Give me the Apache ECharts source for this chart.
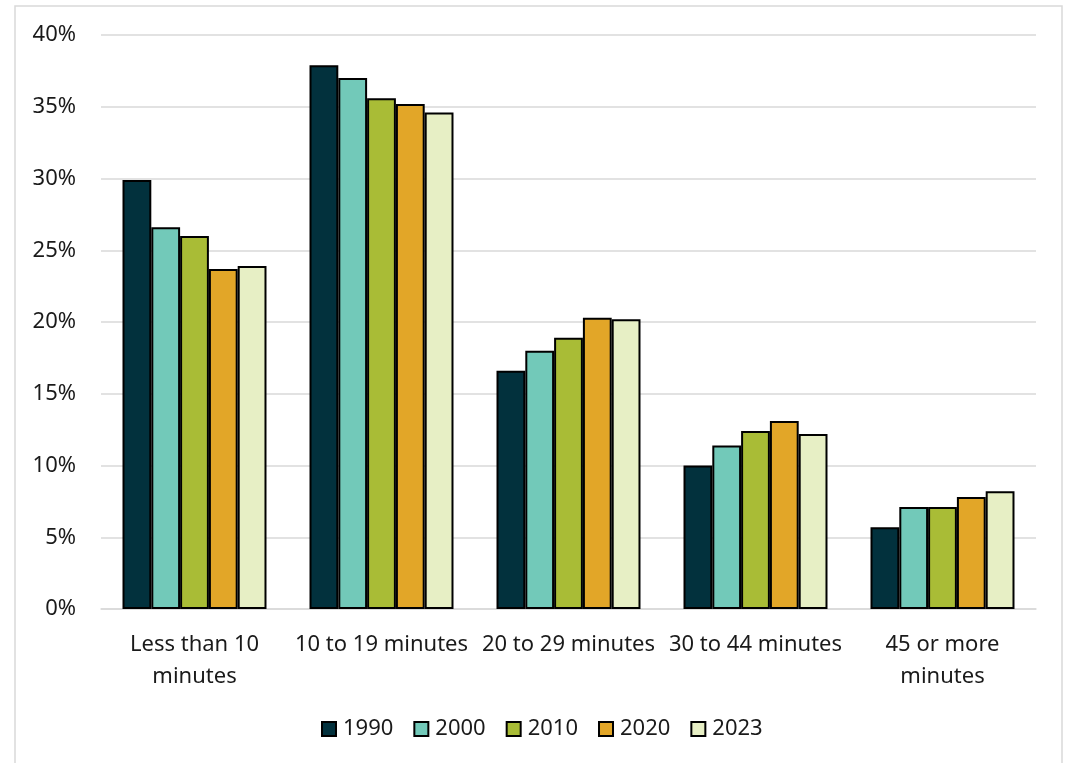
<!DOCTYPE html>
<html>
<head>
<meta charset="utf-8">
<style>
  html, body { margin: 0; padding: 0; background: #ffffff; }
  #chart { width: 1066px; height: 763px; }
</style>
<script src="https://cdn.jsdelivr.net/npm/echarts@6/dist/echarts.min.js"></script>
</head>
<body>
<div id="chart"></div>
<script>
// Share of workers by travel time to work, by year (percent)
const categories = ['Less than 10\nminutes', '10 to 19 minutes', '20 to 29 minutes', '30 to 44 minutes', '45 or more\nminutes'];
const years = ['1990', '2000', '2010', '2020', '2023'];
const values1990 = [29.9, 37.9, 16.6, 10.0, 5.7];
const values2000 = [26.6, 37.0, 18.0, 11.4, 7.1];
const values2010 = [26.0, 35.6, 18.9, 12.4, 7.1];
const values2020 = [23.7, 35.2, 20.3, 13.1, 7.8];
const values2023 = [23.9, 34.6, 20.2, 12.2, 8.2];
const yTicks = [0, 5, 10, 15, 20, 25, 30, 35, 40];
const colors = ['#02313d', '#72c9b9', '#a9bc36', '#e2a628', '#e7efc5'];

const seriesValues = [values1990, values2000, values2010, values2020, values2023];
const fontFamily = '"Noto Sans", "Open Sans", sans-serif';
const textColor = '#1a1a1a';
const gridColor = '#d9d9d9';
const fontSize = 22;

const chart = echarts.init(document.getElementById('chart'), null, { renderer: 'canvas' });

chart.setOption({
  animation: false,
  backgroundColor: '#ffffff',
  textStyle: { fontFamily: fontFamily, color: textColor },
  graphic: [{
    type: 'rect',
    shape: { x: 15, y: 6, width: 1047, height: 800 },
    style: { fill: 'none', stroke: gridColor, lineWidth: 1.5 },
    silent: true,
    z: -1
  }],
  grid: { left: 101, right: 30, top: 35, bottom: 154, containLabel: false },
  legend: {
    data: years,
    top: 713,
    left: 316,
    itemWidth: 14,
    itemHeight: 14,
    itemGap: 20,
    icon: 'rect',
    textStyle: { fontFamily: fontFamily, fontSize: fontSize, color: textColor, padding: [0, 0, 0, 2] }
  },
  xAxis: {
    type: 'category',
    data: categories,
    axisTick: { show: false },
    axisLine: { lineStyle: { color: gridColor, width: 1.5 } },
    axisLabel: {
      interval: 0,
      margin: 20,
      fontSize: fontSize,
      lineHeight: 32,
      color: textColor,
      fontFamily: fontFamily
    }
  },
  yAxis: {
    type: 'value',
    min: yTicks[0],
    max: yTicks[yTicks.length - 1],
    interval: 5,
    axisLine: { show: false },
    axisTick: { show: false },
    splitLine: { lineStyle: { color: gridColor, width: 1.5 } },
    axisLabel: {
      margin: 25,
      fontSize: fontSize,
      color: textColor,
      fontFamily: fontFamily,
      formatter: v => v + '%'
    }
  },
  series: years.map((y, i) => ({
    name: y,
    type: 'bar',
    data: seriesValues[i],
    barGap: '0%',
    barCategoryGap: '23%',
    itemStyle: { color: colors[i], borderColor: '#000000', borderWidth: 2 }
  }))
});
</script>
</body>
</html>
